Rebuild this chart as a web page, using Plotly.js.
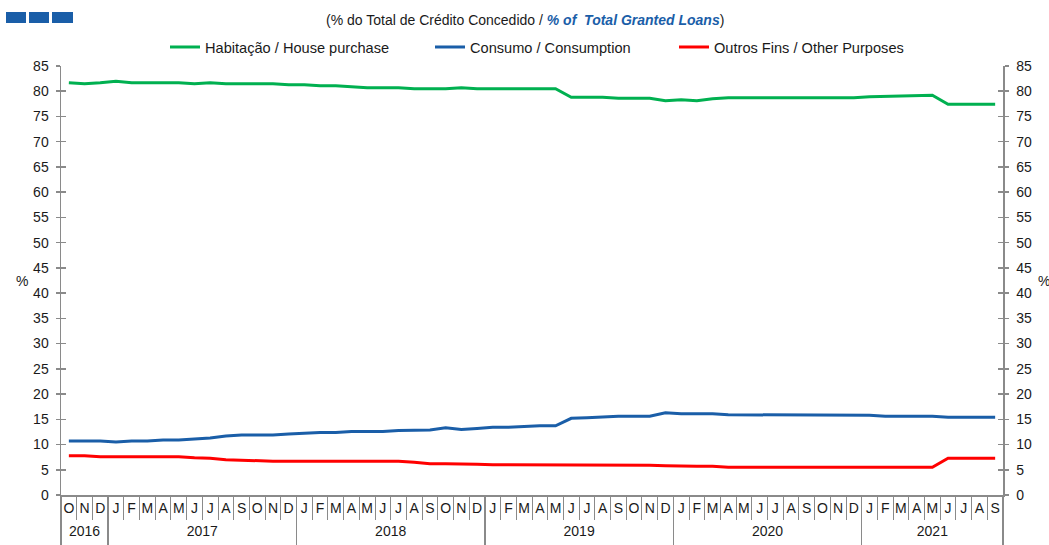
<!DOCTYPE html>
<html>
<head>
<meta charset="utf-8">
<script src="https://cdn.plot.ly/plotly-3.0.1.min.js"></script>
<style>html,body{margin:0;padding:0;background:#fff;}#chart{width:1049px;height:545px;}</style>
</head>
<body>
<div id="chart"></div>
<script>
// ---- Data ----
const monthLabels = [
  'O','N','D',
  'J','F','M','A','M','J','J','A','S','O','N','D',
  'J','F','M','A','M','J','J','A','S','O','N','D',
  'J','F','M','A','M','J','J','A','S','O','N','D',
  'J','F','M','A','M','J','J','A','S','O','N','D',
  'J','F','M','A','M','J','J','A','S'
];
const yearLabels = ['2016','2017','2018','2019','2020','2021'];
const monthsPerYear = [3, 12, 12, 12, 12, 9];

const housing = [
  81.7, 81.5, 81.7,
  82.0, 81.7, 81.7, 81.7, 81.7, 81.5, 81.7, 81.5, 81.5, 81.5, 81.5, 81.3,
  81.3, 81.1, 81.1, 80.9, 80.7, 80.7, 80.7, 80.5, 80.5, 80.5, 80.7, 80.5,
  80.5, 80.5, 80.5, 80.5, 80.5, 78.8, 78.8, 78.8, 78.6, 78.6, 78.6, 78.1,
  78.3, 78.1, 78.5, 78.7, 78.7, 78.7, 78.7, 78.7, 78.7, 78.7, 78.7, 78.7,
  78.9, 79.0, 79.0, 79.2, 79.2, 77.4, 77.4, 77.4, 77.4
];
const consumption = [
  10.7, 10.7, 10.7,
  10.5, 10.7, 10.7, 10.9, 10.9, 11.1, 11.3, 11.7, 11.9, 11.9, 11.9, 12.1,
  12.3, 12.4, 12.4, 12.6, 12.6, 12.6, 12.8, 12.9, 12.9, 13.3, 13.0, 13.2,
  13.4, 13.4, 13.6, 13.7, 13.7, 15.2, 15.3, 15.5, 15.6, 15.6, 15.6, 16.3,
  16.1, 16.1, 16.1, 15.9, 15.9, 15.9, 15.9, 15.9, 15.9, 15.9, 15.9, 15.9,
  15.8, 15.6, 15.6, 15.6, 15.6, 15.4, 15.4, 15.4, 15.4
];
const otherPurposes = [
  7.8, 7.8, 7.6,
  7.6, 7.6, 7.6, 7.6, 7.6, 7.4, 7.3, 7.0, 6.9, 6.7, 6.7, 6.7,
  6.7, 6.7, 6.7, 6.7, 6.7, 6.7, 6.7, 6.5, 6.2, 6.2, 6.2, 6.1,
  6.0, 6.0, 6.0, 6.0, 6.0, 6.0, 6.0, 6.0, 6.0, 6.0, 5.9, 5.8,
  5.7, 5.7, 5.7, 5.5, 5.5, 5.5, 5.5, 5.5, 5.5, 5.5, 5.5, 5.5,
  5.5, 5.5, 5.5, 5.5, 5.5, 7.3, 7.3, 7.3, 7.3
];
const seriesNames = ['Habitação / House purchase', 'Consumo / Consumption', 'Outros Fins / Other Purposes'];
const seriesColors = ['#00b050', '#1a5ea8', '#ff0000'];

// ---- Derived positions ----
const xIdx = monthLabels.map((_, i) => i);
const monthBounds = monthLabels.map((_, i) => i - 0.5).concat([monthLabels.length - 0.5]);
const yearBounds = [-0.5];
const yearCenters = [];
let acc = 0;
monthsPerYear.forEach(n => { yearCenters.push(acc + (n - 1) / 2); acc += n; yearBounds.push(acc - 0.5); });

const W = 1049, H = 545, ML = 61, MR = 46, MT = 66, MB = 50;
const PW = W - ML - MR, PH = H - MT - MB;
const px = v => (v - ML) / PW;
const py = v => (H - MB - v) / PH;

const FONT = 'Liberation Sans, Arial, sans-serif';
const AXC = '#8a8a8a';
const XR = [-0.5, monthLabels.length - 0.5];
const YR = [0, 85];

const data = [housing, consumption, otherPurposes].map((vals, i) => ({
  type: 'scatter', mode: 'lines', x: xIdx, y: vals, name: seriesNames[i],
  line: {color: seriesColors[i], width: 3}, legend: i === 0 ? 'legend' : 'legend' + (i + 1),
  hoverinfo: 'x+y'
}));

const legendBase = {orientation: 'h', yanchor: 'middle', xanchor: 'left', bgcolor: 'rgba(0,0,0,0)',
  font: {family: FONT, size: 14.6, color: '#1a1a1a'}, y: py(47)};

const yBase = {range: YR, dtick: 5, tick0: 0, showgrid: false, zeroline: false, fixedrange: true};

const layout = {
  width: W, height: H,
  margin: {l: ML, r: MR, t: MT, b: MB, pad: 0},
  paper_bgcolor: '#fff', plot_bgcolor: '#fff',
  showlegend: true,
  legend: Object.assign({}, legendBase, {x: px(165)}),
  legend2: Object.assign({}, legendBase, {x: px(430)}),
  legend3: Object.assign({}, legendBase, {x: px(674)}),
  xaxis: {range: XR, tickmode: 'array', tickvals: xIdx, ticktext: monthLabels, ticks: '',
    showline: true, linecolor: AXC, linewidth: 1.5, showgrid: false, zeroline: false,
    tickfont: {family: FONT, size: 14, color: '#1a1a1a'}, ticklabelstandoff: 0, fixedrange: true},
  xaxis2: {range: XR, overlaying: 'x', anchor: 'y', side: 'bottom', tickmode: 'array', tickvals: monthBounds,
    ticks: 'outside', ticklen: 24, tickcolor: AXC, tickwidth: 1, showticklabels: false, showline: false,
    showgrid: false, zeroline: false, fixedrange: true},
  xaxis3: {range: XR, overlaying: 'x', anchor: 'y', side: 'bottom', tickmode: 'array', tickvals: yearBounds,
    ticks: 'outside', ticklen: 50, tickcolor: AXC, tickwidth: 1.5, showticklabels: false, showline: false,
    showgrid: false, zeroline: false, fixedrange: true},
  xaxis4: {range: XR, overlaying: 'x', anchor: 'y', side: 'bottom', tickmode: 'array', tickvals: yearCenters,
    ticktext: yearLabels, ticks: 'outside', ticklen: 23, tickcolor: 'rgba(0,0,0,0)', showline: false,
    showgrid: false, zeroline: false, tickfont: {family: FONT, size: 14, color: '#1a1a1a'}, fixedrange: true},
  yaxis: Object.assign({}, yBase, {side: 'left', showline: true, linecolor: AXC, linewidth: 1.5,
    ticks: 'outside', ticklen: 4, tickcolor: AXC, tickwidth: 1.5, ticklabelstandoff: 4,
    tickfont: {family: FONT, size: 14, color: '#1a1a1a'}}),
  yaxis2: Object.assign({}, yBase, {side: 'right', overlaying: 'y', anchor: 'x', showline: true, linecolor: AXC, linewidth: 1.5,
    ticks: 'outside', ticklen: 4, tickcolor: AXC, tickwidth: 1.5, ticklabelstandoff: 5,
    tickfont: {family: FONT, size: 14, color: '#1a1a1a'}}),
  yaxis3: Object.assign({}, yBase, {side: 'left', overlaying: 'y', anchor: 'x', showline: false,
    ticks: 'inside', ticklen: 5, tickcolor: AXC, tickwidth: 1.5, showticklabels: false}),
  yaxis4: Object.assign({}, yBase, {side: 'right', overlaying: 'y', anchor: 'x', showline: false,
    ticks: 'inside', ticklen: 5, tickcolor: AXC, tickwidth: 1.5, showticklabels: false}),
  annotations: [
    {xref: 'paper', yref: 'paper', x: px(525), y: py(20), xanchor: 'center', yanchor: 'middle', showarrow: false,
      text: '(% do Total de Crédito Concedido / <span style="color:#1a5ea8"><b><i>% of  Total Granted Loans</i></b></span>)',
      font: {family: FONT, size: 14, color: '#1a1a1a'}},
    {xref: 'paper', yref: 'paper', x: px(22), y: py(281), xanchor: 'center', yanchor: 'middle', showarrow: false,
      text: '%', font: {family: FONT, size: 14, color: '#1a1a1a'}},
    {xref: 'paper', yref: 'paper', x: px(1044), y: py(281), xanchor: 'center', yanchor: 'middle', showarrow: false,
      text: '%', font: {family: FONT, size: 14, color: '#1a1a1a'}}
  ],
  shapes: [[6, 26], [29, 49], [52, 73]].map(([a, b]) => ({
    type: 'rect', xref: 'paper', yref: 'paper', x0: px(a), x1: px(b), y0: py(12), y1: py(23),
    fillcolor: '#1a5ea8', line: {width: 0}, layer: 'above'
  }))
};

// invisible anchor traces so the overlay axes are drawn
data.push({type: 'scatter', x: [XR[0]], y: [0], xaxis: 'x2', yaxis: 'y3', mode: 'markers', marker: {opacity: 0}, showlegend: false, hoverinfo: 'skip'});
data.push({type: 'scatter', x: [XR[0]], y: [0], xaxis: 'x3', yaxis: 'y4', mode: 'markers', marker: {opacity: 0}, showlegend: false, hoverinfo: 'skip'});
data.push({type: 'scatter', x: [XR[0]], y: [0], xaxis: 'x4', yaxis: 'y2', mode: 'markers', marker: {opacity: 0}, showlegend: false, hoverinfo: 'skip'});

Plotly.newPlot('chart', data, layout, {displayModeBar: false, staticPlot: true});
</script>
</body>
</html>
